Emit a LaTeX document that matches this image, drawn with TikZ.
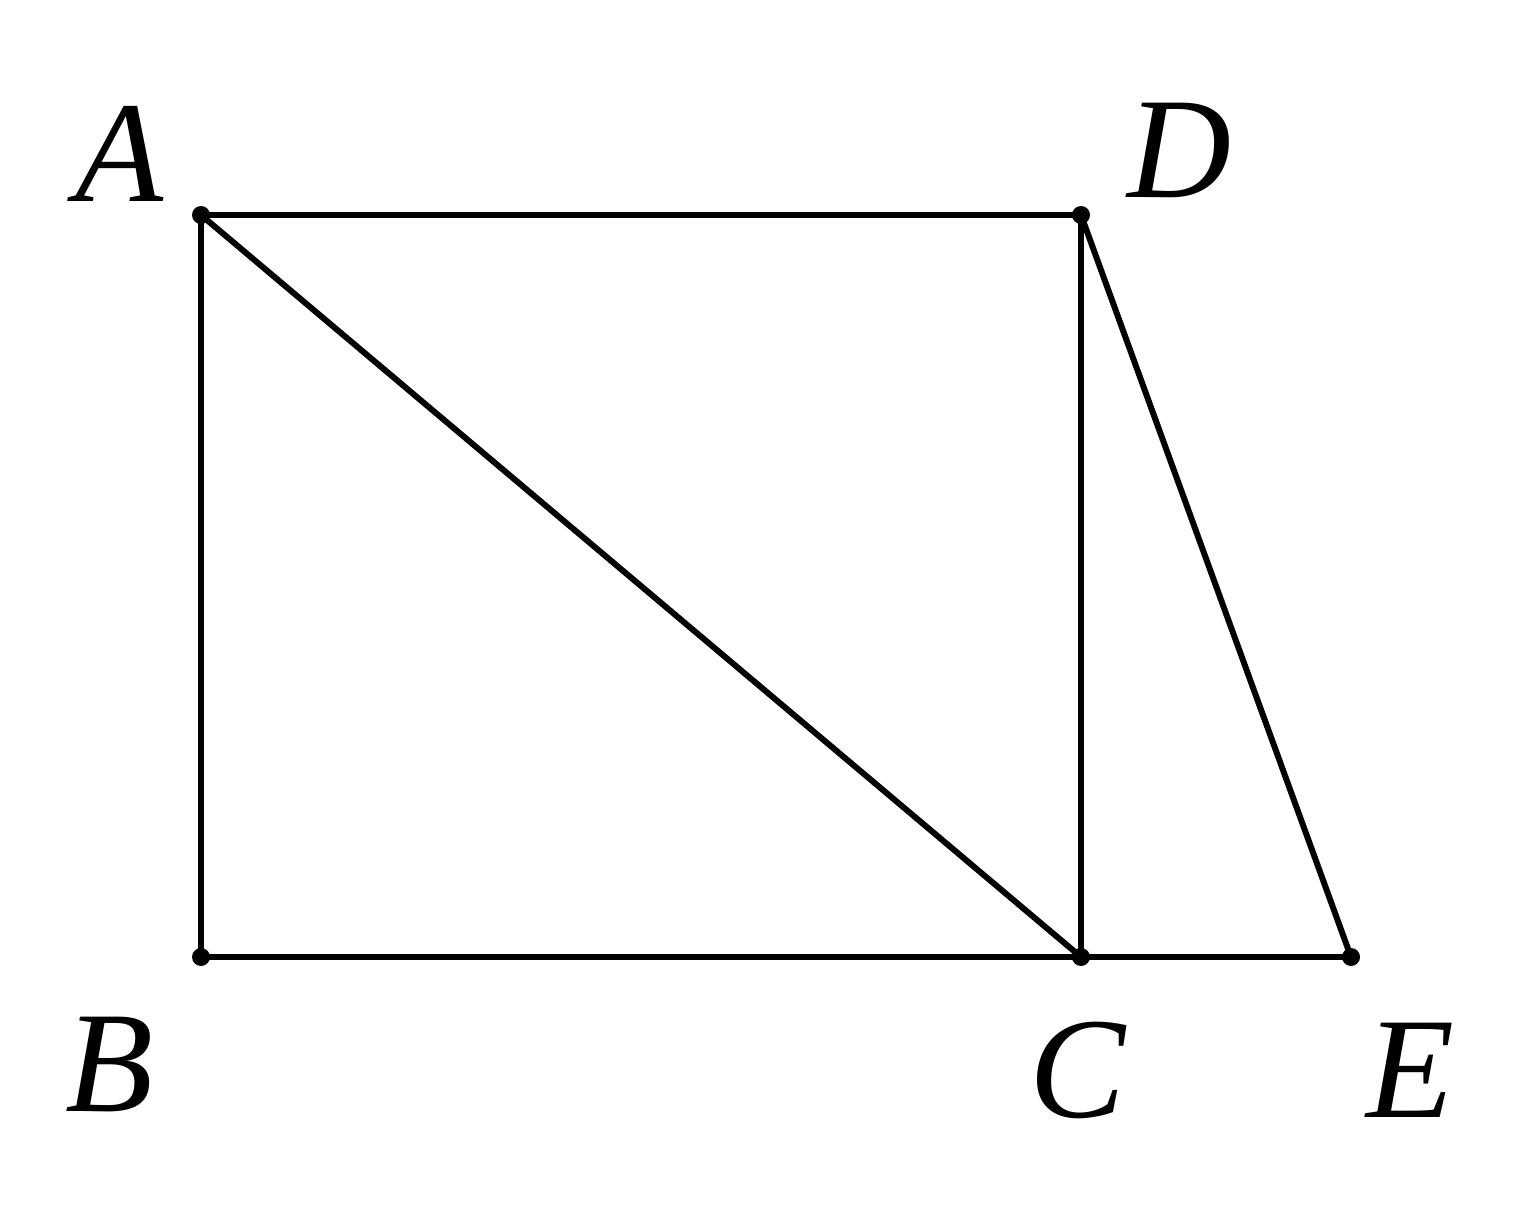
\documentclass[tikz,border=0pt]{standalone}
\usepackage{fontspec}
\setmainfont{Liberation Serif}
\begin{document}
\begin{tikzpicture}[line width=1.7pt, line join=round,
    ptlabel/.style={font=\fontsize{41}{41}\selectfont\itshape, inner sep=0pt}]

        \useasboundingbox (0,0) rectangle (15.38,12.20);

        \coordinate (A) at (2.01,10.05);
        \coordinate (D) at (10.81,10.05);
        \coordinate (B) at (2.01,2.63);
        \coordinate (C) at (10.81,2.63);
        \coordinate (E) at (13.51,2.63);

        \draw (A) -- (D) -- (C) -- (B) -- cycle;
        \draw (A) -- (C);
        \draw (D) -- (E) -- (C);

        \foreach \p in {A,B,C,D,E}
            \fill (\p) circle (0.09);

        \node[ptlabel] (labA) at (1.20,10.66) {A};
        \node[ptlabel] (labD) at (11.80,10.70) {D};
        \node[ptlabel] (labB) at (1.10,1.55) {B};
        \node[ptlabel] (labC) at (10.78,1.50) {C};
        \node[ptlabel] (labE) at (14.10,1.50) {E};

\end{tikzpicture}
\end{document}
